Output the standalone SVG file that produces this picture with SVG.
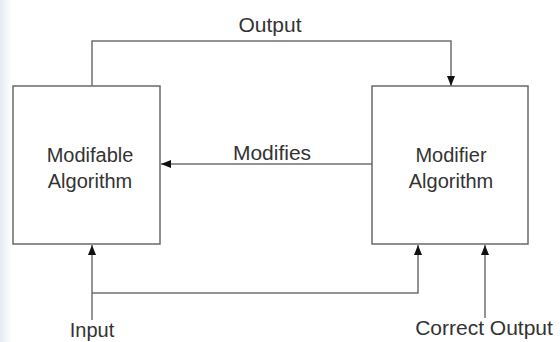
<svg xmlns="http://www.w3.org/2000/svg" width="560" height="342" viewBox="0 0 560 342">
<defs>
<style>
.box{fill:#fff;stroke:#6a6a6a;stroke-width:1.5}
.ln{fill:none;stroke:#707070;stroke-width:1.5}
text{font-family:"Liberation Sans",Arial,sans-serif;font-size:20px;fill:#333;text-anchor:middle}
</style>
<linearGradient id="edge" x1="0" y1="0" x2="1" y2="0">
<stop offset="0" stop-color="#e4ebf3"/>
<stop offset="1" stop-color="#ffffff"/>
</linearGradient>
<marker id="ah" viewBox="0 0 10 10" refX="10" refY="5" markerWidth="10" markerHeight="10" markerUnits="userSpaceOnUse" orient="auto">
<path d="M0,1 L10,5 L0,9 Z" fill="#111"/>
</marker>
</defs>
<rect width="560" height="342" fill="#fff"/>
<rect width="12" height="342" fill="url(#edge)"/>
<g id="connectors">
<path class="ln" d="M92,86 V41 H451 V86" marker-end="url(#ah)"/>
<path class="ln" d="M372,164 H161" marker-end="url(#ah)"/>
<path class="ln" d="M92,320 V245" marker-end="url(#ah)"/>
<path class="ln" d="M92,293 H418 V245" marker-end="url(#ah)"/>
<path class="ln" d="M485,318 V245" marker-end="url(#ah)"/>
<text x="270" y="32" style="font-size:21px">Output</text>
<text x="272" y="160" style="font-size:21px">Modifies</text>
<text x="92" y="337">Input</text>
<text x="484" y="335" style="font-size:21px">Correct Output</text>
</g>
<g id="modifable">
<rect class="box" x="13" y="86" width="147" height="158"/>
<text x="90" y="162">Modifable</text>
<text x="90" y="188">Algorithm</text>
</g>
<g id="modifier">
<rect class="box" x="372" y="86" width="156" height="158"/>
<text x="451" y="162">Modifier</text>
<text x="451" y="188">Algorithm</text>
</g>
</svg>
